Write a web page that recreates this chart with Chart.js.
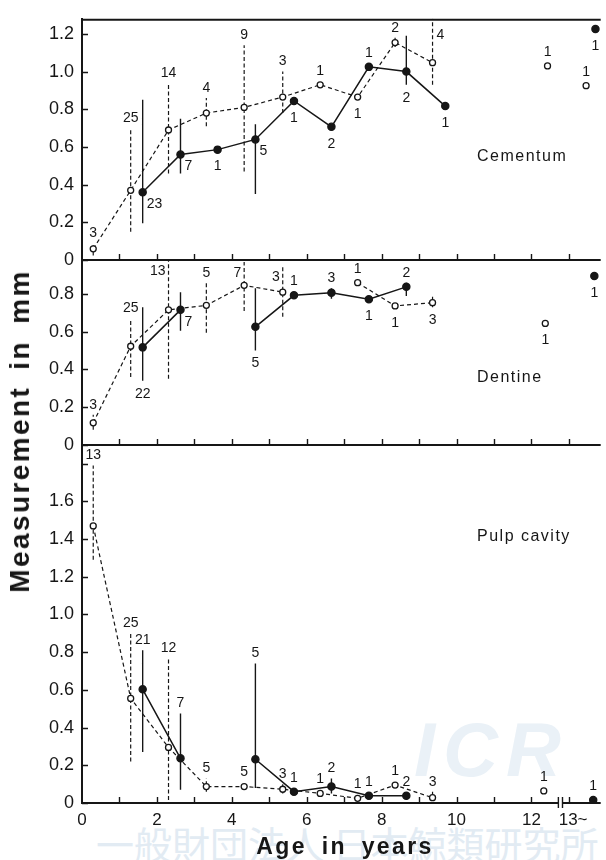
<!DOCTYPE html>
<html>
<head>
<meta charset="utf-8">
<script src="https://cdn.jsdelivr.net/npm/chart.js@4.4.1/dist/chart.umd.min.js"></script>
<style>
  html, body { margin: 0; padding: 0; background: #fff; }
  #wrap { position: relative; width: 606px; height: 860px; overflow: hidden;
          font-family: "Liberation Sans", Arial, sans-serif; color: #161616; }
  #wrap canvas { position: absolute; left: 0; top: 0; }
  .wm { position: absolute; white-space: nowrap; line-height: 1; }
  #wmText { left: 96px; top: 824px; font-size: 38px; color: #e2ebf3;
            font-family: "Noto Sans CJK JP", sans-serif; }
  #wmLogo { left: 414px; top: 712px; font-size: 76px; font-weight: bold; font-style: italic;
            letter-spacing: 8px; color: #eaf1f7; }
  .panel { position: absolute; left: 477px; font-size: 16px; letter-spacing: 1.5px;
           line-height: 1; transform: translateY(-50%); white-space: nowrap; }
  #ytitle { position: absolute; left: 20px; top: 431px; font-size: 28px; font-weight: bold;
            letter-spacing: 2.4px; word-spacing: 6px; line-height: 1; white-space: nowrap;
            transform: translate(-50%, -50%) rotate(-90deg); }
  #xtitle { position: absolute; left: 345px; top: 846px; font-size: 23px; font-weight: bold;
            letter-spacing: 2.4px; word-spacing: 6px; line-height: 1; white-space: nowrap;
            transform: translate(-50%, -50%); }
</style>
</head>
<body>
<div id="wrap">
  <div class="wm" id="wmLogo">ICR</div>
  <div class="wm" id="wmText">一般財団法人 日本鯨類研究所</div>
  <canvas id="teeth" width="606" height="860"></canvas>
  <div class="panel" style="top:156px">Cementum</div>
  <div class="panel" style="top:377px">Dentine</div>
  <div class="panel" style="top:536px">Pulp cavity</div>
  <div id="ytitle">Measurement in mm</div>
  <div id="xtitle">Age in years</div>
</div>
<script>
// age classes (open circles sit left of the year mark, filled ones right of it)
const openAge   = [0.30, 1.30, 2.31, 3.32, 4.33, 5.36, 6.36, 7.36, 8.36, 9.36];
const filledAge = [1.62, 2.63, 3.62, 4.63, 5.66, 6.66, 7.66, 8.66, 9.70];

// Cementum
const cemOpenMean   = [0.06, 0.37, 0.69, 0.78, 0.81, 0.865, 0.93, 0.865, 1.154, 1.047];
const cemOpenLow    = [0.025, 0.15, 0.46, 0.71, 0.47, 0.78, null, null, 1.13, 0.93];
const cemOpenHigh   = [0.09, 0.70, 0.94, 0.86, 1.14, 1.00, null, null, 1.18, 1.28];
const cemOpenN      = [3, 25, 14, 4, 9, 3, 1, 1, 2, 4];
const cemFilledMean = [0.36, 0.56, 0.586, 0.64, 0.844, 0.707, 1.025, 1.0, 0.817];
const cemFilledLow  = [0.195, 0.46, null, 0.35, null, null, null, 0.93, null];
const cemFilledHigh = [0.85, 0.75, null, 0.72, null, null, null, 1.19, null];
const cemFilledN    = [23, 7, 1, 5, 1, 2, 1, 2, 1];
const cemOldOpenAge = [12.43, 13.46], cemOldOpenMean = [1.03, 0.925], cemOldOpenN = [1, 1];
const cemOldFilledAge = [13.71], cemOldFilledMean = [1.226], cemOldFilledN = [1];

// Dentine
const dentOpenMean   = [0.117, 0.523, 0.716, 0.74, 0.846, 0.81, null, 0.86, 0.737, 0.754];
const dentOpenLow    = [0.08, 0.36, 0.35, 0.595, 0.71, 0.68, null, null, null, 0.73];
const dentOpenHigh   = [0.16, 0.67, 0.98, 0.86, 0.97, 0.95, null, null, null, 0.79];
const dentOpenN      = [3, 25, 13, 5, 7, 3, null, 1, 1, 3];
const dentFilledMean = [0.517, 0.716, null, 0.626, 0.793, 0.807, 0.772, 0.838, null];
const dentFilledLow  = [0.34, 0.605, null, 0.50, null, 0.775, null, 0.79, null];
const dentFilledHigh = [0.73, 0.81, null, 0.83, null, 0.83, null, 0.86, null];
const dentFilledN    = [22, 7, null, 5, 1, 3, 1, 2, null];
const dentOldOpenAge = [12.37], dentOldOpenMean = [0.644], dentOldOpenN = [1];
const dentOldFilledAge = [13.68], dentOldFilledMean = [0.895], dentOldFilledN = [1];

// Pulp cavity
const pulpOpenMean   = [1.47, 0.555, 0.295, 0.087, 0.087, 0.073, 0.051, 0.025, 0.095, 0.028];
const pulpOpenLow    = [1.29, 0.22, 0.016, 0.06, null, 0.05, null, null, null, 0.01];
const pulpOpenHigh   = [1.79, 0.90, 0.77, 0.13, null, 0.10, null, null, null, 0.06];
const pulpOpenN      = [13, 25, 12, 5, 5, 3, 1, 1, 1, 3];
const pulpFilledMean = [0.603, 0.237, null, 0.232, 0.06, 0.087, 0.039, 0.039, null];
const pulpFilledLow  = [0.27, 0.07, null, 0.08, null, 0.05, null, null, null];
const pulpFilledHigh = [0.81, 0.475, null, 0.74, null, 0.13, null, null, null];
const pulpFilledN    = [21, 7, null, 5, 1, 2, 1, 2, null];
const pulpOldOpenAge = [12.33], pulpOldOpenMean = [0.064], pulpOldOpenN = [1];
const pulpOldFilledAge = [13.65], pulpOldFilledMean = [0.016], pulpOldFilledN = [1];

// ticks
const ageTicks    = [0, 1, 2, 3, 4, 5, 6, 7, 8, 9, 10, 11, 12, 13];
const ageTickText = ['0', '', '2', '', '4', '', '6', '', '8', '', '10', '', '12', '13~'];
const cemTicks  = [0, 0.2, 0.4, 0.6, 0.8, 1.0, 1.2];
const cemTickText  = ['0', '0.2', '0.4', '0.6', '0.8', '1.0', '1.2'];
const dentTicks = [0, 0.2, 0.4, 0.6, 0.8];
const dentTickText = ['0', '0.2', '0.4', '0.6', '0.8'];
const pulpTicks = [0, 0.2, 0.4, 0.6, 0.8, 1.0, 1.2, 1.4, 1.6, 1.8];
const pulpTickText = ['0', '0.2', '0.4', '0.6', '0.8', '1.0', '1.2', '1.4', '1.6', ''];

// where each sample size sits: t above, b below, r right, tl/tr beside the whisker top
const cemOpenPos = ['t','t','t','t','t','t','t','b','t','tr'];
const cemFilledPos = ['r','r','b','r','b','b','t','b','b'];
const dentOpenPos = ['t','t','tl','t','tl','tl',null,'t','b','b'];
const dentFilledPos = ['b','r',null,'b','t','t','b','t',null];
const pulpOpenPos = ['t','t','t','t','t','t','t','t','t','t'];
const pulpFilledPos = ['t','t',null,'t','t','t','t','t',null];

const ink = '#161616';
const family = '"Liberation Sans", Arial, sans-serif';

function pts(ages, vals) {
    return ages.map((a, i) => ({x: a, y: vals[i]}));
}

function series(yAxisID, ages, means, counts, pos, lows, highs, open, joined) {
    return {
        yAxisID: yAxisID,
        data: pts(ages, means),
        counts: counts, labelPos: pos, lows: lows, highs: highs,
        showLine: joined,
        borderColor: ink,
        borderWidth: open ? 1.2 : 1.5,
        borderDash: open ? [4, 3] : [],
        pointStyle: 'circle',
        pointRadius: open ? 3 : 3.6,
        pointBorderWidth: 1.3,
        pointBorderColor: ink,
        pointBackgroundColor: open ? '#fff' : ink,
        order: 1
    };
}

function whiskers(yAxisID, ages, lows, highs, open) {
    const d = [];
    ages.forEach((a, i) => {
        if (lows[i] == null) return;
        d.push({x: a, y: lows[i]}, {x: a, y: highs[i]}, {x: a, y: null});
    });
    return {
        yAxisID: yAxisID, data: d, borderColor: ink,
        borderWidth: open ? 1.2 : 1.4, borderDash: open ? [4, 2.5] : [],
        pointRadius: 0, order: 3
    };
}

const datasets = [
    series('yCem', openAge, cemOpenMean, cemOpenN, cemOpenPos, cemOpenLow, cemOpenHigh, true, true),
    series('yCem', filledAge, cemFilledMean, cemFilledN, cemFilledPos, cemFilledLow, cemFilledHigh, false, true),
    series('yCem', cemOldOpenAge, cemOldOpenMean, cemOldOpenN, ['t','t'], null, null, true, false),
    series('yCem', cemOldFilledAge, cemOldFilledMean, cemOldFilledN, ['b'], null, null, false, false),
    whiskers('yCem', openAge, cemOpenLow, cemOpenHigh, true),
    whiskers('yCem', filledAge, cemFilledLow, cemFilledHigh, false),

    series('yDent', openAge, dentOpenMean, dentOpenN, dentOpenPos, dentOpenLow, dentOpenHigh, true, true),
    series('yDent', filledAge, dentFilledMean, dentFilledN, dentFilledPos, dentFilledLow, dentFilledHigh, false, true),
    series('yDent', dentOldOpenAge, dentOldOpenMean, dentOldOpenN, ['b'], null, null, true, false),
    series('yDent', dentOldFilledAge, dentOldFilledMean, dentOldFilledN, ['b'], null, null, false, false),
    whiskers('yDent', openAge, dentOpenLow, dentOpenHigh, true),
    whiskers('yDent', filledAge, dentFilledLow, dentFilledHigh, false),

    series('yPulp', openAge, pulpOpenMean, pulpOpenN, pulpOpenPos, pulpOpenLow, pulpOpenHigh, true, true),
    series('yPulp', filledAge, pulpFilledMean, pulpFilledN, pulpFilledPos, pulpFilledLow, pulpFilledHigh, false, true),
    series('yPulp', pulpOldOpenAge, pulpOldOpenMean, pulpOldOpenN, ['t'], null, null, true, false),
    series('yPulp', pulpOldFilledAge, pulpOldFilledMean, pulpOldFilledN, ['t'], null, null, false, false),
    whiskers('yPulp', openAge, pulpOpenLow, pulpOpenHigh, true),
    whiskers('yPulp', filledAge, pulpFilledLow, pulpFilledHigh, false)
];

function yAxis(max, weight, ticks, text) {
    return {
        type: 'linear', position: 'left', stack: 'panels', stackWeight: weight,
        min: 0, max: max,
        grid: {drawOnChartArea: false, drawTicks: false},
        border: {color: ink, width: 2},
        afterBuildTicks: s => { s.ticks = ticks.map(v => ({value: v})); },
        afterFit: s => { s.width = 82; },
        ticks: {
            autoSkip: false, padding: 8, color: ink,
            font: {size: 18, family: family},
            callback: (v, i) => text[i]
        }
    };
}

// inward tick marks, panel frames and the axis break
const framePlugin = {
    id: 'frame',
    beforeDatasetsDraw(chart) {
        const ctx = chart.ctx, area = chart.chartArea, xs = chart.scales.x;
        ctx.save();
        ctx.strokeStyle = ink;
        ctx.lineWidth = 2;
        ctx.beginPath();
        ctx.moveTo(area.left, area.top + 1);
        ctx.lineTo(area.right, area.top + 1);
        ctx.stroke();
        ['yCem', 'yDent', 'yPulp'].forEach(id => {
            const ys = chart.scales[id];
            const yb = Math.round(ys.getPixelForValue(0));
            ctx.lineWidth = 2;
            ctx.beginPath();
            ctx.moveTo(area.left, yb);
            ctx.lineTo(area.right, yb);
            ctx.stroke();
            ctx.lineWidth = 1.4;
            ctx.beginPath();
            ageTicks.forEach(v => {
                if (v === 0) return;
                const x = Math.round(xs.getPixelForValue(v)) + 0.5;
                ctx.moveTo(x, yb);
                ctx.lineTo(x, yb - 6);
            });
            ys.ticks.forEach(t => {
                const y = Math.round(ys.getPixelForValue(t.value)) + 0.5;
                ctx.moveTo(area.left, y);
                ctx.lineTo(area.left + 6, y);
            });
            ctx.stroke();
        });
        // axis break before the 13~ class
        const yb = Math.round(chart.scales.yPulp.getPixelForValue(0));
        const x1 = xs.getPixelForValue(12.72), x2 = xs.getPixelForValue(12.83);
        ctx.fillStyle = '#fff';
        ctx.fillRect(x1, yb - 2, x2 - x1, 4);
        ctx.lineWidth = 1.4;
        ctx.beginPath();
        ctx.moveTo(x1, yb - 6); ctx.lineTo(x1, yb + 5);
        ctx.moveTo(x2, yb - 6); ctx.lineTo(x2, yb + 5);
        ctx.stroke();
        ctx.restore();
    }
};

// sample sizes written beside each mean
const countPlugin = {
    id: 'counts',
    afterDatasetsDraw(chart) {
        const ctx = chart.ctx;
        ctx.save();
        ctx.font = '14px ' + family;
        ctx.fillStyle = ink;
        ctx.textBaseline = 'middle';
        chart.data.datasets.forEach((ds, di) => {
            if (!ds.counts) return;
            const meta = chart.getDatasetMeta(di);
            const ys = chart.scales[ds.yAxisID];
            ds.counts.forEach((n, i) => {
                const p = ds.labelPos[i];
                if (n == null || !p) return;
                const el = meta.data[i];
                const x = el.x, y = el.y;
                const top = ds.highs && ds.highs[i] != null ? ys.getPixelForValue(ds.highs[i]) : y - 4;
                const bot = ds.lows && ds.lows[i] != null ? ys.getPixelForValue(ds.lows[i]) : y + 4;
                let tx = x, ty = y, align = 'center';
                if (p === 't') ty = top - 10;
                else if (p === 'b') ty = bot + 13;
                else if (p === 'r') { tx = x + 4; ty = y + 12; align = 'left'; }
                else if (p === 'tl') { tx = x - 3; ty = top + 11; align = 'right'; }
                else if (p === 'tr') { tx = x + 4; ty = top + 16; align = 'left'; }
                ctx.textAlign = align;
                ctx.fillText(String(n), tx, ty);
            });
        });
        ctx.restore();
    }
};

new Chart(document.getElementById('teeth'), {
    type: 'line',
    data: {datasets: datasets},
    options: {
        responsive: false,
        animation: false,
        devicePixelRatio: 1,
        spanGaps: false,
        layout: {padding: {left: 0, right: 2, top: 13, bottom: 0}},
        plugins: {legend: {display: false}, tooltip: {enabled: false}},
        scales: {
            yPulp: yAxis(1.9, 1.9, pulpTicks, pulpTickText),
            yDent: yAxis(0.98, 0.98, dentTicks, dentTickText),
            yCem: yAxis(1.28, 1.28, cemTicks, cemTickText),
            x: {
                type: 'linear', position: 'bottom', min: 0, max: 13.85,
                grid: {drawOnChartArea: false, drawTicks: false},
                border: {display: false},
                afterBuildTicks: s => { s.ticks = ageTicks.map(v => ({value: v})); },
                afterFit: s => { s.height = 57; },
                ticks: {
                    autoSkip: false, maxRotation: 0, padding: 7, color: ink,
                    font: {size: 17, family: family},
                    callback: (v, i) => {
                        const t = ageTickText[i];
                        return t.endsWith('~') ? '\u2002' + t : t;
                    }
                }
            }
        }
    },
    plugins: [framePlugin, countPlugin]
});
</script>
</body>
</html>
